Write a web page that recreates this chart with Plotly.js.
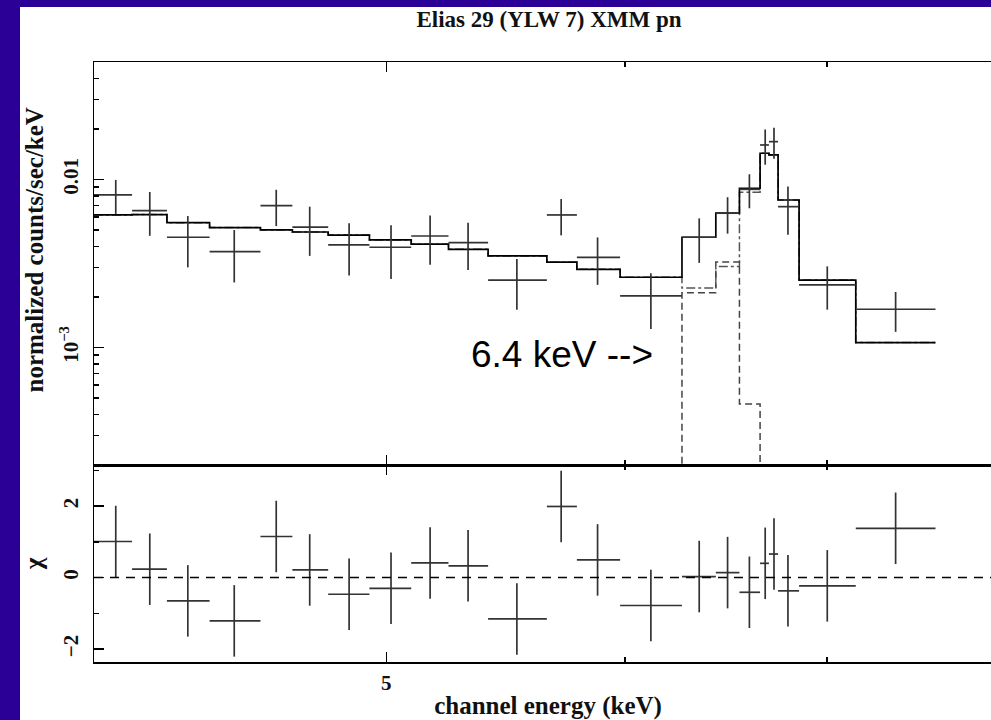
<!DOCTYPE html>
<html><head><meta charset="utf-8">
<script src="https://cdn.plot.ly/plotly-3.0.1.min.js"></script>
<style>
html,body{margin:0;padding:0;width:991px;height:720px;overflow:hidden;background:#2a0096;}
#plot{position:absolute;left:20px;top:7px;width:990px;height:713px;}
</style></head><body><div id="plot"></div>
<script>
// Channel bins (keV)
const binLo  = [4.000, 4.118, 4.229, 4.369, 4.542, 4.654, 4.783, 4.936, 5.096, 5.243, 5.404, 5.652, 5.783, 5.977, 6.266, 6.430, 6.547, 6.651, 6.696, 6.743, 6.852, 7.155];
const binHi  = [4.118, 4.229, 4.369, 4.542, 4.654, 4.783, 4.936, 5.096, 5.243, 5.404, 5.652, 5.783, 5.977, 6.266, 6.430, 6.547, 6.651, 6.696, 6.743, 6.852, 7.155, 7.604];
const energy = [4.067, 4.174, 4.297, 4.452, 4.597, 4.716, 4.860, 5.018, 5.170, 5.322, 5.524, 5.714, 5.875, 6.119, 6.349, 6.488, 6.597, 6.677, 6.722, 6.794, 7.001, 7.376];
// Data (normalized counts/sec/keV)
const flux    = [0.00809, 0.00652, 0.00453, 0.00372, 0.00698, 0.00520, 0.00408, 0.00395, 0.00461, 0.00421, 0.00252, 0.00615, 0.00344, 0.00203, 0.00453, 0.00630, 0.00874, 0.01604, 0.01679, 0.00689, 0.00236, 0.00169];
const fluxErr = [0.00185, 0.00190, 0.00153, 0.00128, 0.00170, 0.00169, 0.00140, 0.00139, 0.00150, 0.00132, 0.00084, 0.00150, 0.00108, 0.00074, 0.00134, 0.00154, 0.00200, 0.00380, 0.00350, 0.00220, 0.00068, 0.00045];
// Model: total, continuum component, 6.4 keV Gaussian component
const modelTotal = [0.00615, 0.00618, 0.00553, 0.00517, 0.00501, 0.00487, 0.00467, 0.00437, 0.00412, 0.00384, 0.00351, 0.00322, 0.00292, 0.00262, 0.00453, 0.00630, 0.00886, 0.01432, 0.01400, 0.00755, 0.00252, 0.00107];
const modelCont  = [0.00615, 0.00618, 0.00553, 0.00517, 0.00501, 0.00487, 0.00467, 0.00437, 0.00412, 0.00384, 0.00351, 0.00322, 0.00292, 0.00262, 0.00226, 0.00303, 0.00840, 0.01432, 0.01400, 0.00755, 0.00252, 0.00107];
const modelGauss = [0, 0, 0, 0, 0, 0, 0, 0, 0, 0, 0, 0, 0, 0, 0.00212, 0.00323, 0.000461, 0, 0, 0, 0, 0];
// Residuals (chi)
const chi    = [1.01, 0.235, -0.65, -1.21, 1.15, 0.215, -0.465, -0.30, 0.41, 0.33, -1.155, 1.99, 0.495, -0.78, 0.03, 0.14, -0.41, 0.40, 0.66, -0.37, -0.23, 1.38];
const chiErr = [1, 1, 1, 1, 1, 1, 1, 1, 1, 1, 1, 1, 1, 1, 1, 1, 1, 1, 1, 1, 1, 1];
// Axis ticks
const xMajor = [5], xMajorText = ['5'], xMinor = [4, 6, 7, 8];
const yMajor = [0.001, 0.01], yMajorText = ['10<sup>\u22123</sup>', '0.01'];
const yMinor = [0.0003,0.0004,0.0005,0.0006,0.0007,0.0008,0.0009,0.002,0.003,0.004,0.005,0.006,0.007,0.008,0.009,0.02,0.03,0.04,0.05];
const y2Major = [-2, 0, 2], y2MajorText = ['\u22122', '0', '2'], y2Minor = [-1, 1, 3];
const annText = '6.4 keV -->';
const yTitleText = 'normalized counts/sec/keV';

const FLOOR = 1e-7;
const edges = binLo.concat([binHi[binHi.length-1]]);
const stepY = arr => { const a = arr.map(v => v > 0 ? v : FLOOR); return a.concat([a[a.length-1]]); };
const errPlus = binHi.map((h,i) => h - energy[i]);
const errMinus = binLo.map((l,i) => energy[i] - l);
const crossCol = '#333';

const traces = [
  {x: edges, y: stepY(modelCont), xaxis:'x', yaxis:'y', mode:'lines', line:{shape:'hv', color:'#555', width:1.5, dash:'dashdot'}, hoverinfo:'skip'},
  {x: edges, y: stepY(modelGauss), xaxis:'x', yaxis:'y', mode:'lines', line:{shape:'hv', color:'#444', width:1.5, dash:'7px,4px'}, hoverinfo:'skip'},
  {x: edges, y: stepY(modelTotal), xaxis:'x', yaxis:'y', mode:'lines', line:{shape:'hv', color:'#000', width:1.7}},
  {x: energy, y: flux, xaxis:'x', yaxis:'y', mode:'markers', marker:{size:1, opacity:0},
   error_y:{type:'data', array:fluxErr, color:crossCol, thickness:1.7, width:0},
   error_x:{type:'data', array:errPlus, arrayminus:errMinus, color:crossCol, thickness:1.7, width:0}},
  {x: energy, y: chi, xaxis:'x2', yaxis:'y2', mode:'markers', marker:{size:1, opacity:0},
   error_y:{type:'data', array:chiErr, color:crossCol, thickness:1.7, width:0},
   error_x:{type:'data', array:errPlus, arrayminus:errMinus, color:crossCol, thickness:1.7, width:0}}
];

const serif = 'Liberation Serif, Times New Roman, serif';
const txtCol = '#111';
const tickFont = {family:serif, size:21, color:txtCol, weight:'bold'};
const titleFont = {family:serif, size:25, color:txtCol, weight:'bold'};
const axBase = {showline:true, linecolor:'#000', linewidth:1.5, mirror:'ticks', ticks:'inside', tickwidth:1.5, tickcolor:'#000', ticklen:10, showgrid:false, zeroline:false, tickfont:tickFont};
const minorTicks = vals => ({tickvals:vals, ticks:'inside', ticklen:5, tickwidth:1.5, tickcolor:'#000'});
const split = 197/600;

const layout = {
  width:990, height:713,
  margin:{l:74, r:8, t:55, b:58},
  paper_bgcolor:'#fff', plot_bgcolor:'#fff',
  showlegend:false,
  title:{text:'Elias 29 (YLW 7) XMM pn', font:{family:serif, size:23, color:txtCol, weight:'bold'}, xref:'container', x:529/990, xanchor:'center', yref:'container', y:1-12/713, yanchor:'middle'},
  xaxis: Object.assign({}, axBase, {type:'log', range:[Math.log10(4), Math.log10(8)], anchor:'y', tickvals:xMajor, ticktext:xMajorText, showticklabels:false, minor:minorTicks(xMinor)}),
  xaxis2: Object.assign({}, axBase, {type:'log', range:[Math.log10(4), Math.log10(8)], anchor:'y2', tickvals:xMajor, ticktext:xMajorText, ticklabelstandoff:1,
          minor:minorTicks(xMinor), title:{text:'channel energy (keV)', font:titleFont, standoff:5}}),
  yaxis: Object.assign({}, axBase, {type:'log', domain:[split, 1], anchor:'x', range:[Math.log10(2e-4), Math.log10(0.05)], tickvals:yMajor, ticktext:yMajorText, tickangle:-90, ticklabelstandoff:6,
          minor:minorTicks(yMinor)}),
  yaxis2: Object.assign({}, axBase, {domain:[0, split], anchor:'x2', range:[-2.36, 3.15], tickvals:y2Major, ticktext:y2MajorText, tickangle:-90, ticklabelstandoff:6,
          minor:minorTicks(y2Minor), title:{text:'\u03c7', font:{family:serif, size:25, color:txtCol, weight:'bold'}, standoff:16}}),
  shapes:[{type:'line', xref:'x2 domain', x0:0, x1:1, yref:'y2', y0:0, y1:0, line:{color:'#000', width:1.5, dash:'9px,7px'}}],
  annotations:[
    {text:yTitleText, xref:'paper', yref:'paper', x:-60/908, y:(662-250.5)/600, xanchor:'center', yanchor:'middle', textangle:-90, showarrow:false, font:titleFont},
    {text:annText, xref:'x', yref:'y', x:0.7881, y:-3.044, xanchor:'right', yanchor:'middle', showarrow:false,
     font:{family:'Liberation Sans, Arial, sans-serif', size:37, color:'#000'}}]
};

Plotly.newPlot('plot', traces, layout, {staticPlot:true, displayModeBar:false});
</script></body></html>
